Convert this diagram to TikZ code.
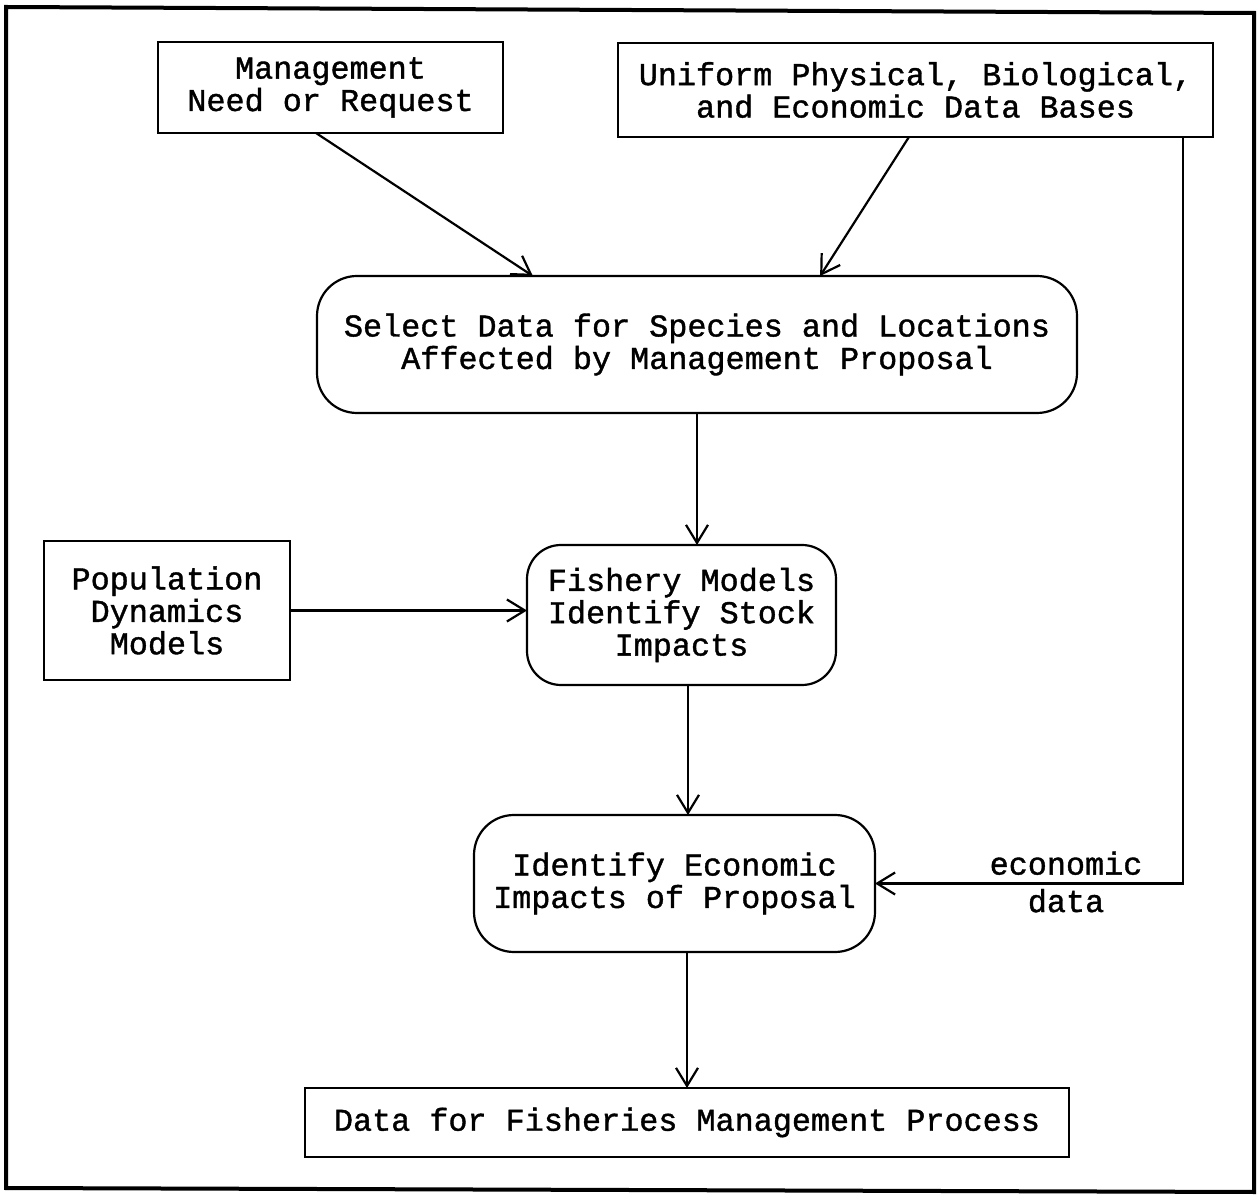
\documentclass[tikz,border=0pt]{standalone}
\usepackage{fontspec}
\newfontfamily\boxfont{Liberation Mono}[FakeBold=1.2]
\usetikzlibrary{arrows.meta,calc}

\begin{document}
\begin{tikzpicture}[x=0.5pt,y=-0.5pt,
  txt/.style={font=\boxfont\fontsize{15.9pt}{16.2pt}\selectfont, align=center},
  plainbox/.style={txt, draw, line width=1.1pt, inner sep=0pt, outer sep=0pt},
  roundbox/.style={plainbox, rounded corners=20pt},
  flow/.style={line width=1.1pt, -{Straight Barb[length=9pt,width=11pt,line width=1.1pt]}}
]
% page and outer frame
\useasboundingbox (0,0) rectangle (1259,1197);
\draw[line width=2pt] (6,7) -- (1254,13) -- (1254,1192) -- (6,1188) -- cycle;

% inputs
\node[plainbox, minimum width=172.5pt, minimum height=45.5pt] (mgmt) at (330.5,87.5)
  {Management\\Need or Request};
\node[plainbox, minimum width=297.5pt, minimum height=47pt] (uni) at (915.5,90)
  {Uniform Physical, Biological,\\and Economic Data Bases};
\node[plainbox, minimum width=123pt, minimum height=69.5pt] (pop) at (167,610.5)
  {Population\\Dynamics\\Models};

% processing steps
\node[roundbox, minimum width=380pt, minimum height=68.5pt] (sel) at (697,344.5)
  {Select Data for Species and Locations\\Affected by Management Proposal};
\node[roundbox, minimum width=154.5pt, minimum height=70pt, rounded corners=17pt] (fish) at (681.5,615)
  {Fishery Models\\Identify Stock\\Impacts};
\node[roundbox, minimum width=200.5pt, minimum height=68.5pt] (econ) at (674.5,883.5)
  {Identify Economic\\Impacts of Proposal};

% output
\node[plainbox, minimum width=382pt, minimum height=34.5pt] (data) at (687,1122.5)
  {Data for Fisheries Management Process};

% connectors
\draw[flow] ($(mgmt.south west)!0.458!(mgmt.south east)$) -- ($(sel.north west)!0.284!(sel.north east)$);
\draw[flow] ($(uni.south west)!0.489!(uni.south east)$) -- ($(sel.north west)!0.662!(sel.north east)$);
\draw[flow] (sel.south) -- (sel.south |- fish.north);
\draw[flow] (pop.east) -- (pop.east -| fish.west);
\draw[flow] ($(fish.south west)!0.521!(fish.south east)$) coordinate (f1) -- (f1 |- econ.north);
\draw[flow] (data.north |- econ.south) -- (data.north);
\draw[flow] ($(uni.south west)!0.95!(uni.south east)$) coordinate (u1) -- (u1 |- econ.east) -- (econ.east);

% label straddling the economic-data line
\node[txt, inner sep=0pt] (lbl) at (1066,882) {economic\\[2.5pt]data};
\end{tikzpicture}
\end{document}
